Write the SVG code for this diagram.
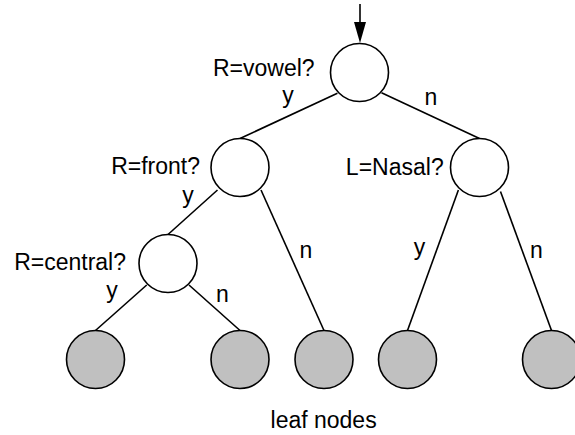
<svg xmlns="http://www.w3.org/2000/svg" width="575" height="435" viewBox="0 0 575 435">
<style>
.n{fill:#fff;stroke:#000;stroke-width:1.6}
.leaf{fill:#c0c0c0;stroke:#000;stroke-width:1.6}
.e{stroke:#000;stroke-width:1.6;fill:none}
text{font-family:"Liberation Sans",Arial,sans-serif;font-size:23px;fill:#000}
</style>
<g id="connectors">
<line class="e" x1="360" y1="4" x2="360" y2="24"/>
<path d="M354,22 L366,22 L360,43 Z" fill="#000"/>
<line class="e" x1="337.4" y1="93.3" x2="240" y2="138.5"/>
<line class="e" x1="381.5" y1="92.7" x2="479.5" y2="138.5"/>
<line class="e" x1="217.5" y1="190" x2="168" y2="234.5"/>
<line class="e" x1="261" y1="190" x2="324" y2="330.5"/>
<line class="e" x1="458.4" y1="190" x2="407.5" y2="330.5"/>
<line class="e" x1="500.5" y1="191.5" x2="551.5" y2="330.5"/>
<line class="e" x1="146.7" y1="285" x2="95.5" y2="330.5"/>
<line class="e" x1="189" y1="285" x2="240" y2="330.5"/>
</g>
<g id="root"><circle class="n" cx="359.5" cy="72.5" r="29"/><text x="314.6" y="76" text-anchor="end">R=vowel?</text></g>
<g id="front"><circle class="n" cx="240" cy="167.5" r="29"/><text x="200" y="174" text-anchor="end">R=front?</text></g>
<g id="nasal"><circle class="n" cx="479.5" cy="167.5" r="29"/><text x="443.7" y="175" text-anchor="end">L=Nasal?</text></g>
<g id="central"><circle class="n" cx="168" cy="263.5" r="29"/><text x="126" y="269.5" text-anchor="end">R=central?</text></g>
<g id="leaf1"><circle class="leaf" cx="95.5" cy="359.5" r="29"/></g>
<g id="leaf2"><circle class="leaf" cx="240" cy="359.5" r="29"/></g>
<g id="leaf3"><circle class="leaf" cx="324" cy="359.5" r="29"/></g>
<g id="leaf4"><circle class="leaf" cx="407.5" cy="359.5" r="29"/></g>
<g id="leaf5"><circle class="leaf" cx="551.5" cy="359.5" r="29"/></g>
<g id="labels">
<text x="288" y="103" text-anchor="middle">y</text>
<text x="431" y="105" text-anchor="middle">n</text>
<text x="188" y="203" text-anchor="middle">y</text>
<text x="112" y="298" text-anchor="middle">y</text>
<text x="222.5" y="301.5" text-anchor="middle">n</text>
<text x="306" y="258" text-anchor="middle">n</text>
<text x="419.5" y="255" text-anchor="middle">y</text>
<text x="536.5" y="258" text-anchor="middle">n</text>
<text x="323.6" y="428" text-anchor="middle">leaf nodes</text>
</g>
</svg>
